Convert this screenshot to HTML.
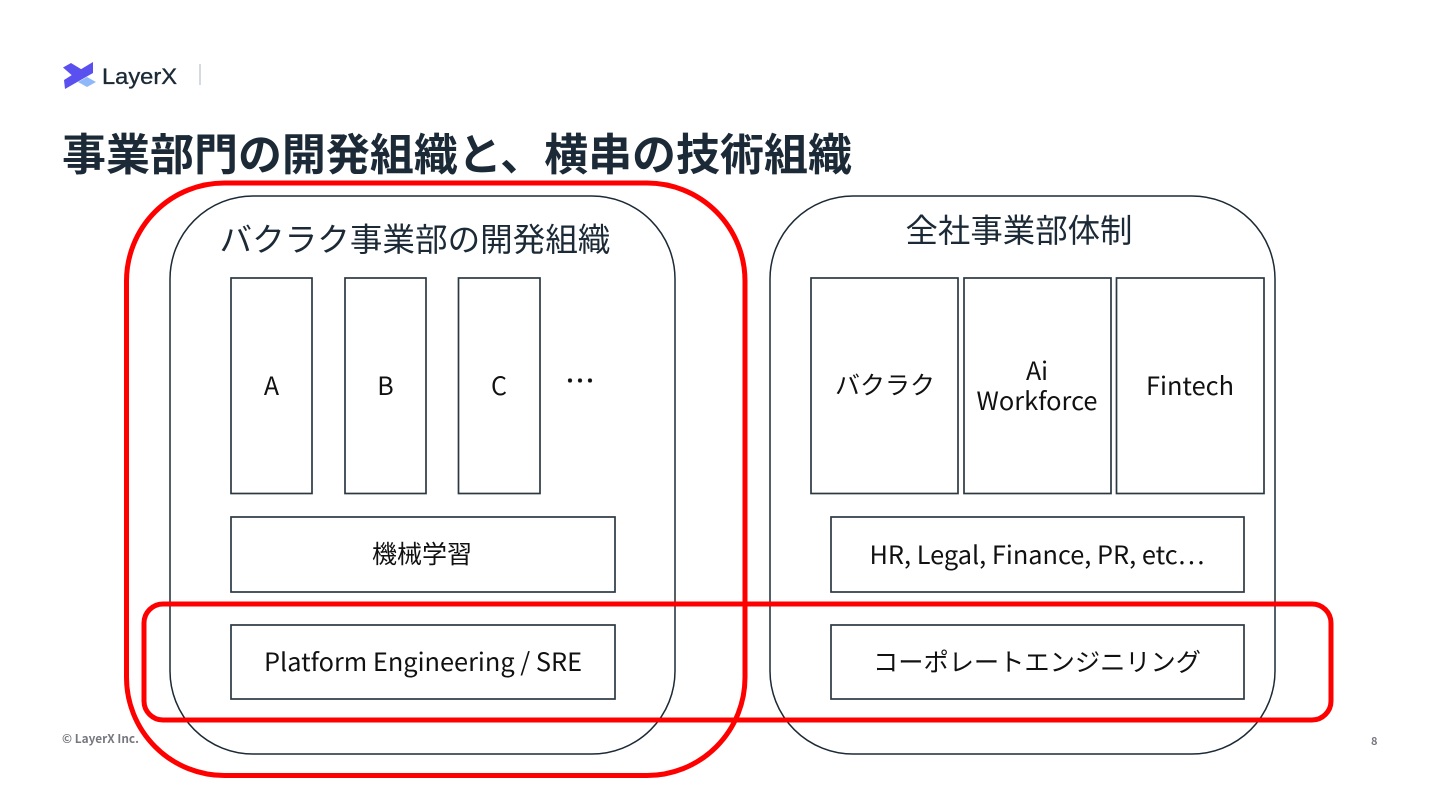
<!DOCTYPE html>
<html><head><meta charset="utf-8">
<style>
html,body{margin:0;padding:0;background:#fff}
body{width:1440px;height:810px;overflow:hidden}
svg{display:block}
text{font-family:"Noto Sans CJK JP","Liberation Sans",sans-serif;fill:#1b2a36}
</style></head><body>
<svg width="1440" height="810" viewBox="0 0 1440 810" xmlns="http://www.w3.org/2000/svg">
<rect width="1440" height="810" fill="#fff"/>
<!-- logo -->
<polygon points="63,67.500 71,63 85,71.500 75,78" fill="#5a50f0"/>
<polygon points="64,80 83,68 93,62 93,73 65,89" fill="#5a50f0"/>
<polygon points="78,82 87,77 96,82 87,87" fill="#8fb8fb"/>
<text x="102" y="84" font-size="22" style='font-family:"Liberation Sans",sans-serif;stroke:#1b2a36;stroke-width:.35' textLength="75" lengthAdjust="spacingAndGlyphs">LayerX</text>
<rect x="199" y="64" width="2" height="21" fill="#d5dae0"/>
<!-- title -->
<text x="62" y="170" font-size="44" font-weight="700" textLength="790" lengthAdjust="spacingAndGlyphs">事業部門の開発組織と、横串の技術組織</text>
<!-- footer -->
<text x="62" y="743" font-size="12" font-weight="700" style="fill:#77787f" textLength="77" lengthAdjust="spacingAndGlyphs">© LayerX Inc.</text>
<text x="1371" y="745" font-size="11" font-weight="700" style="fill:#77787f">8</text>
<!-- containers -->
<g fill="none" stroke="#1b2a36" stroke-width="1.5">
<rect x="170" y="196" width="505" height="558" rx="83" ry="83"/>
<rect x="770" y="196" width="505" height="558" rx="83" ry="83"/>
</g>
<g fill="none" stroke="#2c3842" stroke-width="1.7">
<rect x="231" y="278" width="81" height="215.500"/>
<rect x="345" y="278" width="81" height="215.500"/>
<rect x="458.500" y="278" width="81.500" height="215.500"/>
<rect x="811" y="278" width="147" height="215.500"/>
<rect x="964" y="278" width="147" height="215.500"/>
<rect x="1116.500" y="278" width="147.500" height="215.500"/>
<rect x="231" y="517" width="384" height="75"/>
<rect x="231" y="625" width="384" height="74"/>
<rect x="831" y="517" width="413" height="75"/>
<rect x="831" y="625" width="413" height="74"/>
</g>
<!-- labels -->
<g text-anchor="middle" font-weight="400" font-size="25">
<text x="271.500" y="395" style="fill:#111">A</text>
<text x="385.500" y="395" style="fill:#111">B</text>
<text x="499" y="395" style="fill:#111">C</text>
<text x="580" y="392" font-size="30" style="fill:#111;stroke:#111;stroke-width:.3">…</text>
<text x="885" y="394" style="fill:#111" textLength="100" lengthAdjust="spacingAndGlyphs">バクラク</text>
<text x="1037" y="380" style="fill:#111">Ai</text>
<text x="1037" y="410" style="fill:#111" textLength="121" lengthAdjust="spacingAndGlyphs">Workforce</text>
<text x="1190" y="395" style="fill:#111" textLength="88" lengthAdjust="spacingAndGlyphs">Fintech</text>
<text x="422" y="563" style="fill:#111" textLength="100" lengthAdjust="spacingAndGlyphs">機械学習</text>
<text x="423" y="671" style="fill:#111" textLength="318" lengthAdjust="spacingAndGlyphs">Platform Engineering / SRE</text>
<text x="1037" y="564" style="fill:#111" textLength="335" lengthAdjust="spacingAndGlyphs">HR, Legal, Finance, PR, etc…</text>
<text x="1037" y="671" style="fill:#111" textLength="328" lengthAdjust="spacingAndGlyphs">コーポレートエンジニリング</text>
<text x="415" y="251" font-size="32.5" textLength="391" lengthAdjust="spacingAndGlyphs">バクラク事業部の開発組織</text>
<text x="1019" y="242" font-size="32.5" textLength="227" lengthAdjust="spacingAndGlyphs">全社事業部体制</text>
</g>
<!-- red -->
<g fill="none" stroke="#ff0000" stroke-width="5">
<rect x="126.500" y="183" width="618.500" height="592.500" rx="98" ry="98"/>
<rect x="144" y="604" width="1187" height="116" rx="19" ry="19"/>
</g>
</svg>
</body></html>
